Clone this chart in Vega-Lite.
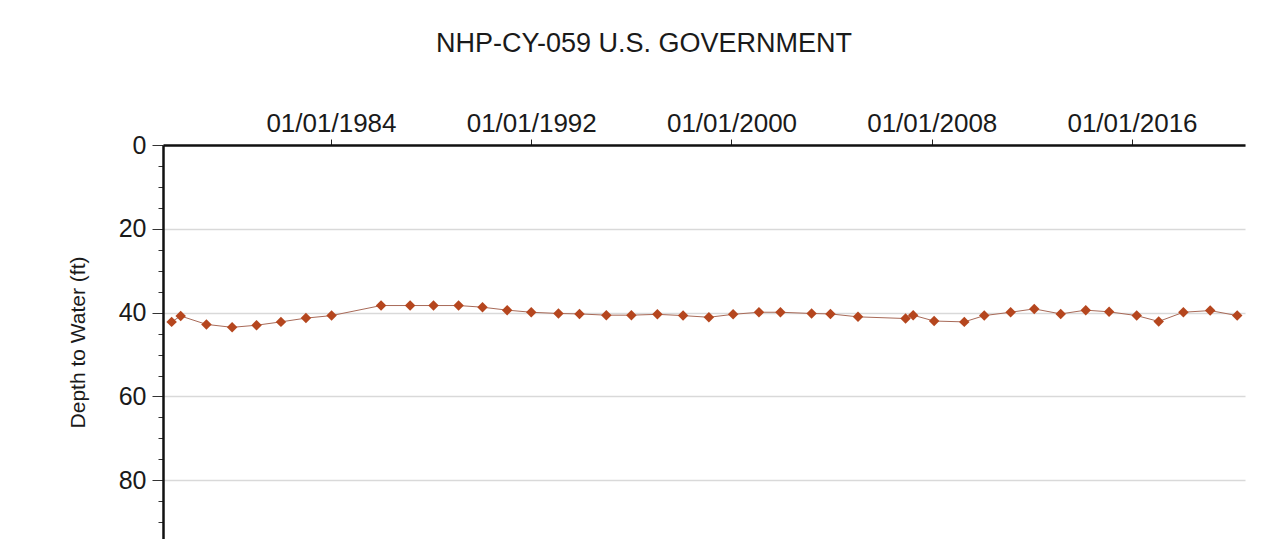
{
  "$schema": "https://vega.github.io/schema/vega-lite/v6.json",
  "width": 1082,
  "height": 394,
  "autosize": {"type": "none"},
  "padding": {"left": 163, "top": 145, "right": 36, "bottom": 0},
  "background": "white",
  "title": {
    "text": "NHP-CY-059 U.S. GOVERNMENT",
    "font": "Liberation Sans",
    "fontSize": 27,
    "fontWeight": "normal",
    "color": "#1a1a1a",
    "anchor": "middle",
    "dx": -60,
    "baseline": "alphabetic",
    "offset": 31
  },
  "config": {
    "view": {"stroke": null},
    "font": "Liberation Sans"
  },
  "data": {
    "values": [
      {"date": "1977-08-20", "depth": 42.2},
      {"date": "1977-12-30", "depth": 40.8},
      {"date": "1979-01-10", "depth": 42.8},
      {"date": "1980-01-20", "depth": 43.5},
      {"date": "1981-01-10", "depth": 43.0},
      {"date": "1982-01-01", "depth": 42.2},
      {"date": "1983-01-01", "depth": 41.3},
      {"date": "1984-01-10", "depth": 40.7},
      {"date": "1986-01-01", "depth": 38.3},
      {"date": "1987-03-01", "depth": 38.3},
      {"date": "1988-02-05", "depth": 38.3},
      {"date": "1989-02-05", "depth": 38.3},
      {"date": "1990-01-20", "depth": 38.7},
      {"date": "1991-01-15", "depth": 39.4},
      {"date": "1992-01-01", "depth": 39.9},
      {"date": "1993-02-01", "depth": 40.2},
      {"date": "1993-12-05", "depth": 40.3},
      {"date": "1995-01-01", "depth": 40.6},
      {"date": "1996-01-01", "depth": 40.6},
      {"date": "1997-01-15", "depth": 40.4},
      {"date": "1998-01-25", "depth": 40.7},
      {"date": "1999-02-05", "depth": 41.1},
      {"date": "2000-01-25", "depth": 40.4},
      {"date": "2001-02-05", "depth": 39.9},
      {"date": "2001-12-15", "depth": 39.9},
      {"date": "2003-03-15", "depth": 40.2},
      {"date": "2003-12-15", "depth": 40.3},
      {"date": "2005-01-20", "depth": 41.0},
      {"date": "2006-12-15", "depth": 41.4},
      {"date": "2007-04-05", "depth": 40.6},
      {"date": "2008-02-05", "depth": 42.0},
      {"date": "2009-04-20", "depth": 42.2},
      {"date": "2010-02-05", "depth": 40.7},
      {"date": "2011-02-25", "depth": 39.9},
      {"date": "2012-02-05", "depth": 39.1},
      {"date": "2013-02-25", "depth": 40.3},
      {"date": "2014-02-25", "depth": 39.4},
      {"date": "2015-02-01", "depth": 39.8},
      {"date": "2016-03-10", "depth": 40.7},
      {"date": "2017-01-25", "depth": 42.1},
      {"date": "2018-01-20", "depth": 39.9},
      {"date": "2019-02-15", "depth": 39.5},
      {"date": "2020-03-15", "depth": 40.7}
    ]
  },
  "encoding": {
    "x": {
      "field": "date",
      "type": "temporal",
      "scale": {"domain": ["1977-04-16", "2020-07-07"], "nice": false},
      "axis": {
        "orient": "top",
        "title": null,
        "values": ["1984-01-01", "1992-01-01", "2000-01-01", "2008-01-01", "2016-01-01"],
        "format": "%m/%d/%Y",
        "labelFont": "Liberation Sans",
        "labelFontSize": 26,
        "labelColor": "#1a1a1a",
        "labelBaseline": "alphabetic",
        "labelPadding": 8,
        "tickSize": 6,
        "tickColor": "#222",
        "tickWidth": 1,
        "domainColor": "#111",
        "domainWidth": 2.5,
        "grid": false
      }
    },
    "y": {
      "field": "depth",
      "type": "quantitative",
      "scale": {"domain": [0, 94], "reverse": true, "nice": false, "zero": false},
      "axis": null
    }
  },
  "layer": [
    {
      "mark": {"type": "rule", "opacity": 0},
      "encoding": {
        "y": {
          "field": "depth",
          "type": "quantitative",
          "axis": {
            "orient": "left",
            "title": null,
            "values": [0,5,10,15,20,25,30,35,40,45,50,55,60,65,70,75,80,85,90],
            "labels": false,
            "tickSize": 5,
            "tickColor": "#333",
            "tickWidth": 1,
            "domain": false,
            "grid": false
          }
        }
      }
    },
    {
      "mark": {"type": "line", "color": "#a86a58", "strokeWidth": 1},
      "encoding": {
        "y": {
          "field": "depth",
          "type": "quantitative",
          "axis": {
            "orient": "left",
            "title": "Depth to Water (ft)",
            "titleFont": "Liberation Sans",
            "titleFontSize": 21,
            "titleFontWeight": "normal",
            "titleColor": "#1a1a1a",
            "titlePadding": 30,
            "values": [0, 20, 40, 60, 80],
            "labelFont": "Liberation Sans",
            "labelFontSize": 25,
            "labelColor": "#1a1a1a",
            "labelPadding": 6,
            "tickSize": 11,
            "tickColor": "#333",
            "tickWidth": 1,
            "domainColor": "#111",
            "domainWidth": 2.5,
            "grid": true,
            "gridColor": "#d9d9d9",
            "gridWidth": 1.5
          }
        }
      }
    },
    {
      "mark": {"type": "point", "shape": "diamond", "filled": true, "size": 110, "color": "#b5461e", "opacity": 1},
      "encoding": {
        "y": {"field": "depth", "type": "quantitative", "axis": null}
      }
    }
  ],
  "resolve": {"axis": {"y": "independent"}}
}
